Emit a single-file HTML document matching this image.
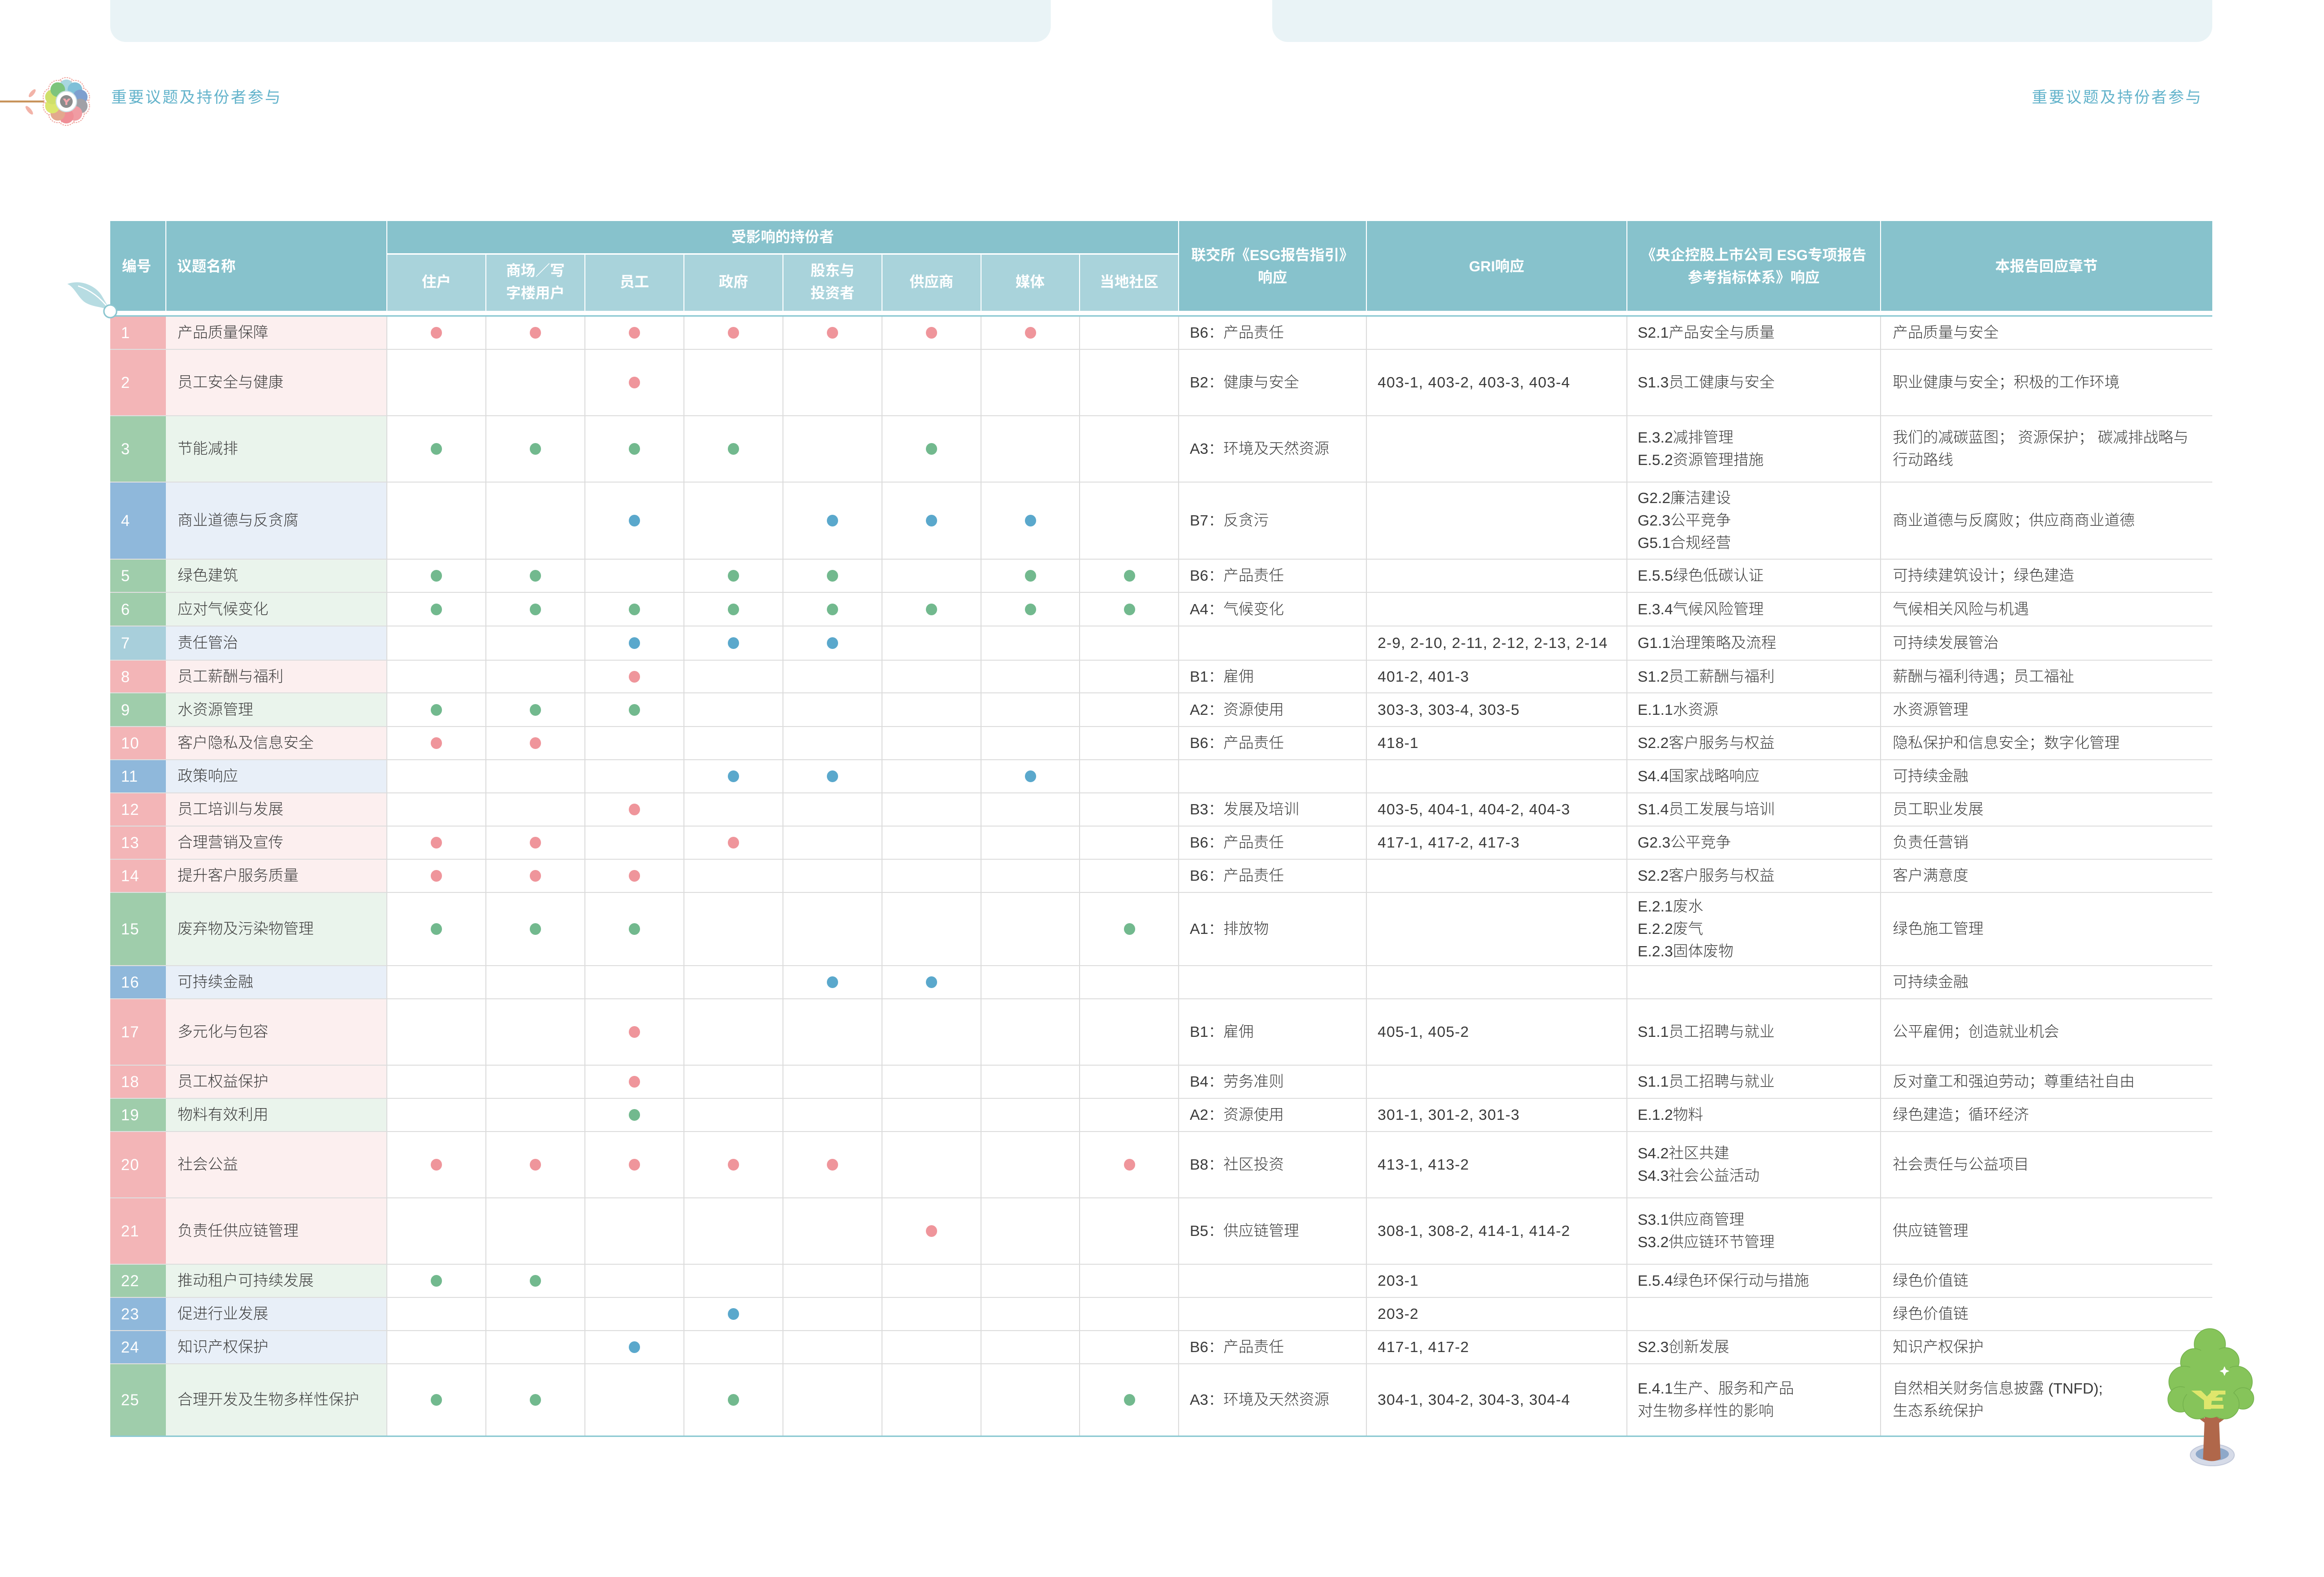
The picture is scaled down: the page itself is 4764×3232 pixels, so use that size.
<!DOCTYPE html>
<html><head><meta charset="utf-8">
<style>
body{margin:0;width:4764px;height:3232px;position:relative;overflow:hidden;background:#fff;font-family:"Liberation Sans","Noto Sans CJK SC",sans-serif;}
.abs{position:absolute}
.panel{position:absolute;top:0;height:86px;background:#e9f3f6;border-radius:0 0 32px 32px}
.title{position:absolute;top:176px;font-size:32px;line-height:46px;color:#63b3cb;letter-spacing:3px;white-space:nowrap}
.hb{position:absolute;background:#fff}
.h{position:absolute;color:#fff;font-weight:bold;font-size:30px;line-height:46px;text-align:center;white-space:nowrap}
.r{position:absolute;left:226px;width:4309px;box-sizing:border-box;border-bottom:2px solid #dedede}
.r>div{position:absolute;top:0;bottom:0;display:flex;align-items:center;font-size:31px;line-height:46px;color:#3a3a3a;font-weight:300;white-space:nowrap}
.r>div.n{left:0;width:114px;padding-left:22px;box-sizing:border-box;color:#fff;font-size:32px;letter-spacing:1px}
.r>div.t{left:114px;width:453px;padding-left:24px;box-sizing:border-box}
.r>div.a{left:2213px}
.r>div.g{left:2598px;letter-spacing:1px}
.r>div.s{left:3131px}
.r>div.b{left:3654px}
.dot{position:absolute;top:50%;width:23px;height:24px;margin-top:-12px;border-radius:50%}
.k1{left:657px}.k2{left:860px}.k3{left:1063px}.k4{left:1266px}.k5{left:1469px}.k6{left:1672px}.k7{left:1875px}.k8{left:2078px}
.P .n{background:#f3b5b7}.P .t{background:#fcefef}.P .dot{background:#ef959b}
.G .n{background:#9fcdab}.G .t{background:#eaf4ec}.G .dot{background:#72b98e}
.B .n{background:#8fb8db}.B .t{background:#e8eff8}.B .dot{background:#5aa8cc}
.T .n{background:#a8cfdb}.T .t{background:#e8eff8}.T .dot{background:#5aa8cc}
.v{position:absolute;top:649px;height:2293px;width:2px;background:#dcdcdc}
</style></head>
<body>

<!-- top panels -->
<div class="panel" style="left:226px;width:1928px"></div>
<div class="panel" style="left:2608px;width:1927px"></div>

<!-- logo -->
<svg class="abs" style="left:0;top:140px" width="200" height="140" viewBox="0 140 200 140">
  <line x1="0" y1="208" x2="96" y2="208" stroke="#c8945c" stroke-width="4"/>
  <ellipse cx="66" cy="191" rx="4" ry="10" fill="#f2b3a8" transform="rotate(40 66 191)"/>
  <ellipse cx="60" cy="226" rx="4" ry="11" fill="#f2b3a8" transform="rotate(-40 60 226)"/>
  <g fill="#fff" stroke="#f0a7a0" stroke-width="2" stroke-dasharray="3 2">
    <circle cx="136" cy="178" r="19"/><circle cx="153.6" cy="183.7" r="19"/><circle cx="164.5" cy="198.7" r="19"/>
    <circle cx="164.5" cy="217.3" r="19"/><circle cx="153.6" cy="232.3" r="19"/><circle cx="136" cy="238" r="19"/>
    <circle cx="118.4" cy="232.3" r="19"/><circle cx="107.5" cy="217.3" r="19"/><circle cx="107.5" cy="198.7" r="19"/>
    <circle cx="118.4" cy="183.7" r="19"/>
  </g>
  <circle cx="136" cy="178" r="15" fill="#a8d6df"/>
  <circle cx="153.6" cy="183.7" r="15" fill="#7fc0d8"/>
  <circle cx="164.5" cy="198.7" r="15" fill="#7e9fcf"/>
  <circle cx="164.5" cy="217.3" r="15" fill="#a0a0a6"/>
  <circle cx="153.6" cy="232.3" r="15" fill="#f09ca3"/>
  <circle cx="136" cy="238" r="15" fill="#ef8e96"/>
  <circle cx="118.4" cy="232.3" r="15" fill="#e3a88e"/>
  <circle cx="107.5" cy="217.3" r="15" fill="#dbe66e"/>
  <circle cx="107.5" cy="198.7" r="15" fill="#cfe06a"/>
  <circle cx="118.4" cy="183.7" r="15" fill="#7dc47c"/>
  <circle cx="136" cy="208" r="21" fill="#fff" stroke="#cfe3e6" stroke-width="2"/>
  <circle cx="136" cy="208" r="13" fill="#8c8c8c"/>
  <path d="M129,202 L134,202 L136,206 L140,202 L145,202 L138,210 L138,215 L134,215 L134,210 Z" fill="#f3a6ad"/>
</svg>

<div class="title" style="left:228px">重要议题及持份者参与</div>
<div class="title" style="left:4165px">重要议题及持份者参与</div>

<!-- header -->
<div class="abs" style="left:226px;top:453px;width:4309px;height:184px;background:#87c2cc"></div>
<div class="abs" style="left:793px;top:522px;width:1623px;height:115px;background:#a9d3db"></div>
<div class="hb" style="left:339px;top:453px;width:2px;height:184px"></div>
<div class="hb" style="left:792px;top:453px;width:2px;height:184px"></div>
<div class="hb" style="left:2415px;top:453px;width:2px;height:184px"></div>
<div class="hb" style="left:2800px;top:453px;width:2px;height:184px"></div>
<div class="hb" style="left:3334px;top:453px;width:2px;height:184px"></div>
<div class="hb" style="left:3854px;top:453px;width:2px;height:184px"></div>
<div class="hb" style="left:793px;top:519px;width:1623px;height:3px"></div>
<div class="hb" style="left:995px;top:522px;width:2px;height:115px"></div>
<div class="hb" style="left:1198px;top:522px;width:2px;height:115px"></div>
<div class="hb" style="left:1401px;top:522px;width:2px;height:115px"></div>
<div class="hb" style="left:1604px;top:522px;width:2px;height:115px"></div>
<div class="hb" style="left:1807px;top:522px;width:2px;height:115px"></div>
<div class="hb" style="left:2010px;top:522px;width:2px;height:115px"></div>
<div class="hb" style="left:2212px;top:522px;width:2px;height:115px"></div>

<div class="h" style="left:250px;top:524px">编号</div>
<div class="h" style="left:363px;top:524px">议题名称</div>
<div class="h" style="left:793px;width:1623px;top:464px">受影响的持份者</div>
<div class="h" style="left:793px;width:203px;top:556px">住户</div>
<div class="h" style="left:996px;width:203px;top:533px">商场／写<br>字楼用户</div>
<div class="h" style="left:1199px;width:203px;top:556px">员工</div>
<div class="h" style="left:1402px;width:203px;top:556px">政府</div>
<div class="h" style="left:1605px;width:203px;top:533px">股东与<br>投资者</div>
<div class="h" style="left:1808px;width:203px;top:556px">供应商</div>
<div class="h" style="left:2010px;width:203px;top:556px">媒体</div>
<div class="h" style="left:2213px;width:203px;top:556px">当地社区</div>
<div class="h" style="left:2416px;width:385px;top:501px">联交所《ESG报告指引》<br>响应</div>
<div class="h" style="left:2801px;width:534px;top:524px">GRI响应</div>
<div class="h" style="left:3335px;width:520px;top:501px">《央企控股上市公司 ESG专项报告<br>参考指标体系》响应</div>
<div class="h" style="left:3855px;width:680px;top:524px">本报告回应章节</div>

<div class="abs" style="left:226px;top:646px;width:4309px;height:3px;background:#8ecad3"></div>

<!-- rows -->
<div class="r P" style="top:649px;height:68px"><div class="n">1</div><div class="t">产品质量保障</div>
<span class="dot k1"></span><span class="dot k2"></span><span class="dot k3"></span><span class="dot k4"></span><span class="dot k5"></span><span class="dot k6"></span><span class="dot k7"></span>
<div class="a">B6：产品责任</div><div class="g"></div><div class="s">S2.1产品安全与质量</div><div class="b">产品质量与安全</div></div>

<div class="r P" style="top:717px;height:136px"><div class="n">2</div><div class="t">员工安全与健康</div>
<span class="dot k3"></span>
<div class="a">B2：健康与安全</div><div class="g">403-1, 403-2, 403-3, 403-4</div><div class="s">S1.3员工健康与安全</div><div class="b">职业健康与安全；积极的工作环境</div></div>

<div class="r G" style="top:853px;height:136px"><div class="n">3</div><div class="t">节能减排</div>
<span class="dot k1"></span><span class="dot k2"></span><span class="dot k3"></span><span class="dot k4"></span><span class="dot k6"></span>
<div class="a">A3：环境及天然资源</div><div class="s">E.3.2减排管理<br>E.5.2资源管理措施</div><div class="b">我们的减碳蓝图；&nbsp;资源保护；&nbsp;碳减排战略与<br>行动路线</div></div>

<div class="r B" style="top:989px;height:158px"><div class="n">4</div><div class="t">商业道德与反贪腐</div>
<span class="dot k3"></span><span class="dot k5"></span><span class="dot k6"></span><span class="dot k7"></span>
<div class="a">B7：反贪污</div><div class="s">G2.2廉洁建设<br>G2.3公平竞争<br>G5.1合规经营</div><div class="b">商业道德与反腐败；供应商商业道德</div></div>

<div class="r G" style="top:1147px;height:68px"><div class="n">5</div><div class="t">绿色建筑</div>
<span class="dot k1"></span><span class="dot k2"></span><span class="dot k4"></span><span class="dot k5"></span><span class="dot k7"></span><span class="dot k8"></span>
<div class="a">B6：产品责任</div><div class="s">E.5.5绿色低碳认证</div><div class="b">可持续建筑设计；绿色建造</div></div>

<div class="r G" style="top:1215px;height:69px"><div class="n">6</div><div class="t">应对气候变化</div>
<span class="dot k1"></span><span class="dot k2"></span><span class="dot k3"></span><span class="dot k4"></span><span class="dot k5"></span><span class="dot k6"></span><span class="dot k7"></span><span class="dot k8"></span>
<div class="a">A4：气候变化</div><div class="s">E.3.4气候风险管理</div><div class="b">气候相关风险与机遇</div></div>

<div class="r T" style="top:1284px;height:70px"><div class="n">7</div><div class="t">责任管治</div>
<span class="dot k3"></span><span class="dot k4"></span><span class="dot k5"></span>
<div class="g">2-9, 2-10, 2-11, 2-12, 2-13, 2-14</div><div class="s">G1.1治理策略及流程</div><div class="b">可持续发展管治</div></div>

<div class="r P" style="top:1354px;height:67px"><div class="n">8</div><div class="t">员工薪酬与福利</div>
<span class="dot k3"></span>
<div class="a">B1：雇佣</div><div class="g">401-2, 401-3</div><div class="s">S1.2员工薪酬与福利</div><div class="b">薪酬与福利待遇；员工福祉</div></div>

<div class="r G" style="top:1421px;height:69px"><div class="n">9</div><div class="t">水资源管理</div>
<span class="dot k1"></span><span class="dot k2"></span><span class="dot k3"></span>
<div class="a">A2：资源使用</div><div class="g">303-3, 303-4, 303-5</div><div class="s">E.1.1水资源</div><div class="b">水资源管理</div></div>

<div class="r P" style="top:1490px;height:68px"><div class="n">10</div><div class="t">客户隐私及信息安全</div>
<span class="dot k1"></span><span class="dot k2"></span>
<div class="a">B6：产品责任</div><div class="g">418-1</div><div class="s">S2.2客户服务与权益</div><div class="b">隐私保护和信息安全；数字化管理</div></div>

<div class="r B" style="top:1558px;height:68px"><div class="n">11</div><div class="t">政策响应</div>
<span class="dot k4"></span><span class="dot k5"></span><span class="dot k7"></span>
<div class="s">S4.4国家战略响应</div><div class="b">可持续金融</div></div>

<div class="r P" style="top:1626px;height:68px"><div class="n">12</div><div class="t">员工培训与发展</div>
<span class="dot k3"></span>
<div class="a">B3：发展及培训</div><div class="g">403-5, 404-1, 404-2, 404-3</div><div class="s">S1.4员工发展与培训</div><div class="b">员工职业发展</div></div>

<div class="r P" style="top:1694px;height:68px"><div class="n">13</div><div class="t">合理营销及宣传</div>
<span class="dot k1"></span><span class="dot k2"></span><span class="dot k4"></span>
<div class="a">B6：产品责任</div><div class="g">417-1, 417-2, 417-3</div><div class="s">G2.3公平竞争</div><div class="b">负责任营销</div></div>

<div class="r P" style="top:1762px;height:68px"><div class="n">14</div><div class="t">提升客户服务质量</div>
<span class="dot k1"></span><span class="dot k2"></span><span class="dot k3"></span>
<div class="a">B6：产品责任</div><div class="s">S2.2客户服务与权益</div><div class="b">客户满意度</div></div>

<div class="r G" style="top:1830px;height:150px"><div class="n">15</div><div class="t">废弃物及污染物管理</div>
<span class="dot k1"></span><span class="dot k2"></span><span class="dot k3"></span><span class="dot k8"></span>
<div class="a">A1：排放物</div><div class="s">E.2.1废水<br>E.2.2废气<br>E.2.3固体废物</div><div class="b">绿色施工管理</div></div>

<div class="r B" style="top:1980px;height:68px"><div class="n">16</div><div class="t">可持续金融</div>
<span class="dot k5"></span><span class="dot k6"></span>
<div class="b">可持续金融</div></div>

<div class="r P" style="top:2048px;height:136px"><div class="n">17</div><div class="t">多元化与包容</div>
<span class="dot k3"></span>
<div class="a">B1：雇佣</div><div class="g">405-1, 405-2</div><div class="s">S1.1员工招聘与就业</div><div class="b">公平雇佣；创造就业机会</div></div>

<div class="r P" style="top:2184px;height:68px"><div class="n">18</div><div class="t">员工权益保护</div>
<span class="dot k3"></span>
<div class="a">B4：劳务准则</div><div class="s">S1.1员工招聘与就业</div><div class="b">反对童工和强迫劳动；尊重结社自由</div></div>

<div class="r G" style="top:2252px;height:68px"><div class="n">19</div><div class="t">物料有效利用</div>
<span class="dot k3"></span>
<div class="a">A2：资源使用</div><div class="g">301-1, 301-2, 301-3</div><div class="s">E.1.2物料</div><div class="b">绿色建造；循环经济</div></div>

<div class="r P" style="top:2320px;height:136px"><div class="n">20</div><div class="t">社会公益</div>
<span class="dot k1"></span><span class="dot k2"></span><span class="dot k3"></span><span class="dot k4"></span><span class="dot k5"></span><span class="dot k8"></span>
<div class="a">B8：社区投资</div><div class="g">413-1, 413-2</div><div class="s">S4.2社区共建<br>S4.3社会公益活动</div><div class="b">社会责任与公益项目</div></div>

<div class="r P" style="top:2456px;height:136px"><div class="n">21</div><div class="t">负责任供应链管理</div>
<span class="dot k6"></span>
<div class="a">B5：供应链管理</div><div class="g">308-1, 308-2, 414-1, 414-2</div><div class="s">S3.1供应商管理<br>S3.2供应链环节管理</div><div class="b">供应链管理</div></div>

<div class="r G" style="top:2592px;height:68px"><div class="n">22</div><div class="t">推动租户可持续发展</div>
<span class="dot k1"></span><span class="dot k2"></span>
<div class="g">203-1</div><div class="s">E.5.4绿色环保行动与措施</div><div class="b">绿色价值链</div></div>

<div class="r B" style="top:2660px;height:68px"><div class="n">23</div><div class="t">促进行业发展</div>
<span class="dot k4"></span>
<div class="g">203-2</div><div class="b">绿色价值链</div></div>

<div class="r B" style="top:2728px;height:68px"><div class="n">24</div><div class="t">知识产权保护</div>
<span class="dot k3"></span>
<div class="a">B6：产品责任</div><div class="g">417-1, 417-2</div><div class="s">S2.3创新发展</div><div class="b">知识产权保护</div></div>

<div class="r G" style="top:2796px;height:146px;border-bottom:none"><div class="n">25</div><div class="t">合理开发及生物多样性保护</div>
<span class="dot k1"></span><span class="dot k2"></span><span class="dot k4"></span><span class="dot k8"></span>
<div class="a">A3：环境及天然资源</div><div class="g">304-1, 304-2, 304-3, 304-4</div><div class="s">E.4.1生产、服务和产品<br>对生物多样性的影响</div><div class="b">自然相关财务信息披露 (TNFD);<br>生态系统保护</div></div>

<!-- vertical grid lines -->
<div class="v" style="left:792px"></div>
<div class="v" style="left:995px"></div>
<div class="v" style="left:1198px"></div>
<div class="v" style="left:1401px"></div>
<div class="v" style="left:1604px"></div>
<div class="v" style="left:1807px"></div>
<div class="v" style="left:2010px"></div>
<div class="v" style="left:2212px"></div>
<div class="v" style="left:2415px"></div>
<div class="v" style="left:2800px"></div>
<div class="v" style="left:3334px"></div>
<div class="v" style="left:3854px"></div>

<div class="abs" style="left:226px;top:2942px;width:4309px;height:3px;background:#8ecad3"></div>

<!-- leaf + circle -->
<svg class="abs" style="left:120px;top:560px" width="130" height="100" viewBox="120 560 130 100">
  <path d="M138,582 C165,572 195,585 208,605 L226,636 C210,628 188,630 172,618 C158,606 152,588 138,582 Z" fill="#b7dce2"/>
  <path d="M160,586 C190,596 210,615 224,634" stroke="#fff" stroke-width="2.5" fill="none"/>
  <circle cx="226" cy="638" r="13" fill="#fff" stroke="#8cc6d0" stroke-width="3"/>
</svg>

<!-- tree -->
<svg class="abs" style="left:4420px;top:2700px" width="220" height="320" viewBox="0 0 220 320">
  <ellipse cx="115" cy="282" rx="45" ry="22" fill="#d6dbe8" stroke="#c3cadb" stroke-width="2"/>
  <ellipse cx="115" cy="280" rx="34" ry="14" fill="#8ea8c9"/>
  <path d="M100,190 L128,190 L132,290 C120,296 108,296 96,290 Z" fill="#b0674a"/>
  <path d="M104,215 C90,205 78,195 66,182" stroke="#b0674a" stroke-width="7" fill="none"/>
  <path d="M124,215 C140,205 150,195 162,182" stroke="#b0674a" stroke-width="7" fill="none"/>
  <g fill="#86c45a" stroke="#74b24d" stroke-width="1.5">
    <circle cx="110" cy="55" r="32"/>
    <circle cx="78" cy="92" r="28"/>
    <circle cx="142" cy="90" r="28"/>
    <circle cx="58" cy="132" r="32"/>
    <circle cx="165" cy="132" r="32"/>
    <circle cx="50" cy="168" r="26"/>
    <circle cx="178" cy="166" r="22"/>
    <circle cx="85" cy="178" r="30"/>
    <circle cx="140" cy="178" r="30"/>
  </g>
  <circle cx="110" cy="135" r="52" fill="#86c45a"/>
  <circle cx="112" cy="90" r="30" fill="#86c45a"/>
  <circle cx="112" cy="178" r="28" fill="#86c45a"/>
  <path d="M72,150 L92,150 L104,162 L116,150 L138,150 L114,170 L112,188 L98,188 L98,170 Z" fill="#dfe66c"/>
  <rect x="112" y="150" width="30" height="8" fill="#dfe66c"/>
  <rect x="114" y="164" width="22" height="7" fill="#dfe66c"/>
  <rect x="106" y="179" width="32" height="8" fill="#dfe66c"/>
  <path d="M140,100 L143,107 L150,110 L143,113 L140,120 L137,113 L130,110 L137,107 Z" fill="#fff"/>
</svg>

</body></html>
